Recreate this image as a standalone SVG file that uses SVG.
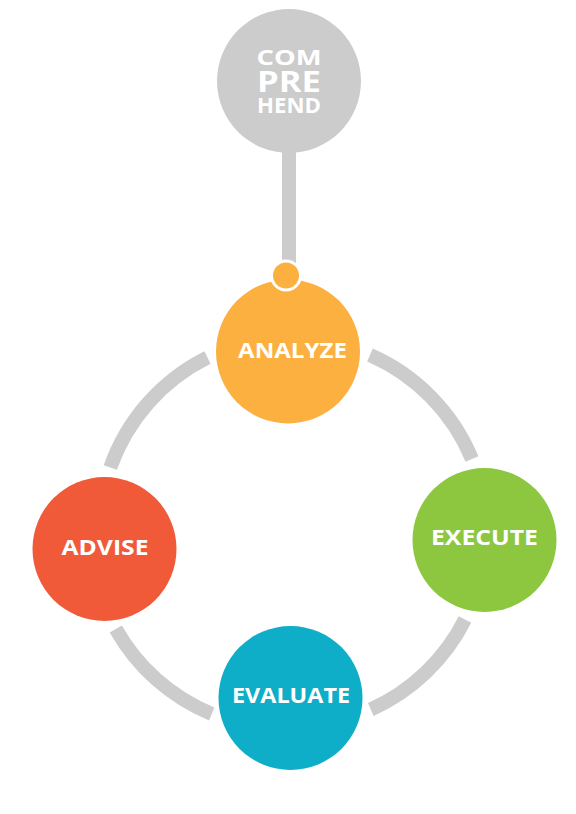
<svg xmlns="http://www.w3.org/2000/svg" width="576" height="814" viewBox="0 0 576 814">
<style>
.arc{fill:none;stroke:#cccccc;stroke-width:14;stroke-linecap:butt}
.lbl{font-family:"Open Sans","Liberation Sans",sans-serif;font-weight:700;fill:#ffffff;text-anchor:middle}
</style>
<rect width="576" height="814" fill="#ffffff"/>
<g id="connectors">
<rect x="282" y="148" width="14" height="118" fill="#cccccc"/>
<path class="arc" d="M110.3,467.5 A195,195 0 0 1 207.5,357.5"/>
<path class="arc" d="M370,355 A195,195 0 0 1 472,459"/>
<path class="arc" d="M465,619.5 A195,195 0 0 1 370.8,709.5"/>
<path class="arc" d="M211.7,714 A195,195 0 0 1 115.8,629"/>
</g>
<g id="comprehend">
<circle cx="289" cy="81" r="72" fill="#cccccc"/>
<text class="lbl" x="289" y="65" font-size="21" textLength="65" lengthAdjust="spacingAndGlyphs">COM</text>
<text class="lbl" x="289" y="91.5" font-size="28" textLength="64" lengthAdjust="spacingAndGlyphs">PRE</text>
<text class="lbl" x="289" y="113.3" font-size="21" textLength="64" lengthAdjust="spacingAndGlyphs">HEND</text>
</g>
<g id="analyze">
<circle cx="288" cy="351.5" r="72" fill="#fbb040"/>
<circle cx="286" cy="275.5" r="14.5" fill="#fbb040" stroke="#ffffff" stroke-width="3"/>
<text class="lbl" x="292.5" y="357.5" font-size="21" textLength="109" lengthAdjust="spacingAndGlyphs">ANALYZE</text>
</g>
<g id="advise">
<circle cx="104.5" cy="549" r="72" fill="#f15a38"/>
<text class="lbl" x="105" y="555" font-size="21" textLength="87" lengthAdjust="spacingAndGlyphs">ADVISE</text>
</g>
<g id="execute">
<circle cx="484.5" cy="540" r="72" fill="#8dc63f"/>
<text class="lbl" x="484.5" y="545" font-size="21" textLength="107" lengthAdjust="spacingAndGlyphs">EXECUTE</text>
</g>
<g id="evaluate">
<circle cx="290.5" cy="698" r="72" fill="#0faec8"/>
<text class="lbl" x="291" y="703" font-size="21" textLength="118" lengthAdjust="spacingAndGlyphs">EVALUATE</text>
</g>
</svg>
